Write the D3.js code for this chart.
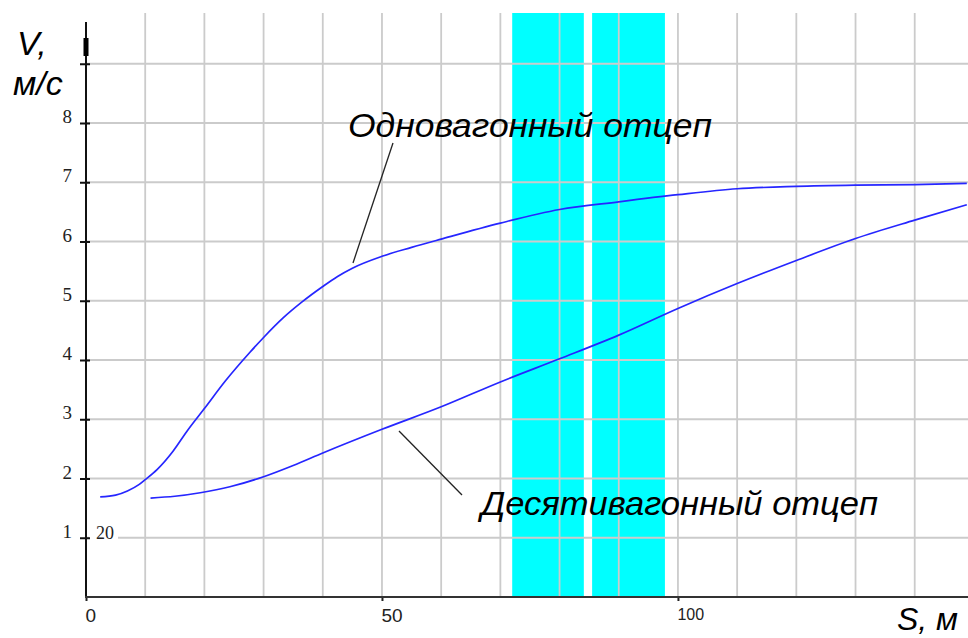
<!DOCTYPE html>
<html>
<head>
<meta charset="utf-8">
<script src="https://cdn.jsdelivr.net/npm/d3@7/dist/d3.min.js"></script>
<style>
  html, body { margin: 0; padding: 0; background: #fff; }
  svg { display: block; }
</style>
</head>
<body>
<svg id="chart" width="968" height="638"></svg>
<script>
// ---- data ----
const singleS = [2.4, 5, 7, 9, 10, 12, 14.7, 17, 20, 23.5, 27.7, 30, 33.3, 36.5, 40, 42.5, 45, 50, 55, 60, 70, 80, 90, 100, 110, 120, 130, 140, 148.8];
const singleV = [1.69, 1.72, 1.79, 1.9, 1.98, 2.15, 2.46, 2.79, 3.18, 3.64, 4.13, 4.38, 4.71, 4.98, 5.24, 5.41, 5.55, 5.75, 5.9, 6.04, 6.31, 6.54, 6.67, 6.79, 6.89, 6.93, 6.95, 6.96, 6.98];
const tenS = [10.9, 15, 19.3, 24.3, 30, 35, 40, 50, 60, 70, 80, 90, 100, 110, 120, 130, 140, 148.8];
const tenV = [1.67, 1.7, 1.76, 1.86, 2.03, 2.22, 2.43, 2.83, 3.21, 3.63, 4.02, 4.42, 4.87, 5.29, 5.68, 6.05, 6.36, 6.62];
const zonesStart = [72, 85.5];
const zonesEnd = [84.1, 97.8];
const xGridValues = [10, 20, 30, 40, 50, 60, 70, 80, 90, 100, 110, 120, 130, 140];
const yGridValues = [1, 2, 3, 4, 5, 6, 7, 8, 9];
const yTickLabels = ["1", "2", "3", "4", "5", "6", "7", "8", ""];
const xTickValues = [0, 50, 100];
const xTickLabels = ["0", "50", "100"];
const labelSingle = "Одновагонный отцеп";
const labelTen = "Десятивагонный отцеп";
const yTitle1 = "V,";
const yTitle2 = "м/с";
const xTitle = "S, м";
const stray = "20";

// ---- layout ----
const svg = d3.select("#chart");
const x = d3.scaleLinear().domain([0, 149]).range([86, 968]);
const y = d3.scaleLinear().domain([0, 8]).range([597, 123]);
const gridTop = 13;
const axisTop = 22;

// cyan zones
svg.append("g").selectAll("rect")
  .data(zonesStart.map((s, i) => [s, zonesEnd[i]]))
  .join("rect")
  .attr("x", d => x(d[0]))
  .attr("width", d => x(d[1]) - x(d[0]))
  .attr("y", gridTop)
  .attr("height", y(0) - gridTop)
  .attr("fill", "#00ffff");

// grid
const grid = svg.append("g").attr("stroke", "#cbcbcb").attr("stroke-width", 1.8);
grid.selectAll("line.v").data(xGridValues).join("line")
  .attr("class", "v")
  .attr("x1", d => x(d)).attr("x2", d => x(d))
  .attr("y1", gridTop).attr("y2", y(0));
grid.selectAll("line.h").data(yGridValues).join("line")
  .attr("class", "h")
  .attr("x1", x(0)).attr("x2", 968)
  .attr("y1", d => y(d)).attr("y2", d => y(d));

// stray label with white background
svg.append("rect").attr("x", 89).attr("y", y(1) - 11).attr("width", 29).attr("height", 14).attr("fill", "#fff");
svg.append("text").attr("x", 96).attr("y", y(1) + 1)
  .style("font-family", "'Liberation Serif', serif").style("font-size", "18px").attr("fill", "#222")
  .text(stray);

// y axis
const yAxis = d3.axisLeft(y).tickValues(yGridValues).tickFormat((d, i) => yTickLabels[i]).tickSize(6).tickPadding(8);
const gy = svg.append("g").attr("transform", `translate(${x(0)},0)`).call(yAxis);
gy.select(".domain").remove();
gy.selectAll(".tick line").attr("x1", -6).attr("x2", 4).attr("stroke", "#111").attr("stroke-width", 2);
gy.selectAll(".tick text")
  .style("font-family", "'Liberation Serif', serif").style("font-size", "19px").attr("fill", "#222")
  .attr("dy", "-0.02em");
svg.append("line").attr("x1", x(0)).attr("x2", x(0)).attr("y1", axisTop).attr("y2", y(0) + 1)
  .attr("stroke", "#111").attr("stroke-width", 2);
svg.append("rect").attr("x", x(0) - 2.5).attr("y", 38).attr("width", 5).attr("height", 18).attr("fill", "#000");

// x axis
const xAxis = d3.axisBottom(x).tickValues(xTickValues).tickFormat((d, i) => xTickLabels[i]).tickSize(4).tickPadding(8);
const gx = svg.append("g").attr("transform", `translate(0,${y(0)})`).call(xAxis);
gx.select(".domain").remove();
gx.selectAll(".tick line").attr("stroke", "#222").attr("stroke-width", 2);
gx.selectAll(".tick text")
  .attr("text-anchor", "start")
  .attr("dx", -1)
  .style("font-family", "'Liberation Sans', Arial, sans-serif")
  .style("font-size", (d, i) => i === 2 ? "16px" : "19px").attr("fill", "#222");
svg.append("line").attr("x1", x(0) - 1).attr("x2", 968).attr("y1", y(0)).attr("y2", y(0))
  .attr("stroke", "#333").attr("stroke-width", 2);

// curves
const line = d3.line().x(d => x(d[0])).y(d => y(d[1])).curve(d3.curveMonotoneX);
svg.append("path").datum(singleS.map((s, i) => [s, singleV[i]]))
  .attr("d", line).attr("fill", "none").attr("stroke", "#2626ff").attr("stroke-width", 1.7);
svg.append("path").datum(tenS.map((s, i) => [s, tenV[i]]))
  .attr("d", line).attr("fill", "none").attr("stroke", "#2626ff").attr("stroke-width", 1.7);

// leader lines
svg.append("line").attr("x1", 353).attr("y1", 263).attr("x2", 393).attr("y2", 143)
  .attr("stroke", "#222").attr("stroke-width", 1.3);
svg.append("line").attr("x1", 399).attr("y1", 431).attr("x2", 462).attr("y2", 495)
  .attr("stroke", "#222").attr("stroke-width", 1.3);

// annotation texts
const italic = "'Liberation Sans', Arial, sans-serif";
svg.append("text").attr("x", 348).attr("y", 137)
  .style("font-family", italic).style("font-style", "italic").style("font-size", "34px")
  .attr("textLength", 364).attr("lengthAdjust", "spacingAndGlyphs").attr("fill", "#000")
  .text(labelSingle);
svg.append("text").attr("x", 481).attr("y", 515)
  .style("font-family", italic).style("font-style", "italic").style("font-size", "33px")
  .attr("textLength", 397).attr("lengthAdjust", "spacingAndGlyphs").attr("fill", "#000")
  .text(labelTen);

// axis titles
svg.append("text").attr("x", 17).attr("y", 55)
  .style("font-family", italic).style("font-style", "italic").style("font-size", "34px").attr("fill", "#000")
  .text(yTitle1);
svg.append("text").attr("x", 13).attr("y", 95)
  .style("font-family", italic).style("font-style", "italic").style("font-size", "34px").attr("fill", "#000")
  .text(yTitle2);
svg.append("text").attr("x", 897).attr("y", 630)
  .style("font-family", italic).style("font-style", "italic").style("font-size", "31px").attr("fill", "#000")
  .attr("textLength", 61).attr("lengthAdjust", "spacingAndGlyphs")
  .text(xTitle);
</script>
</body>
</html>
